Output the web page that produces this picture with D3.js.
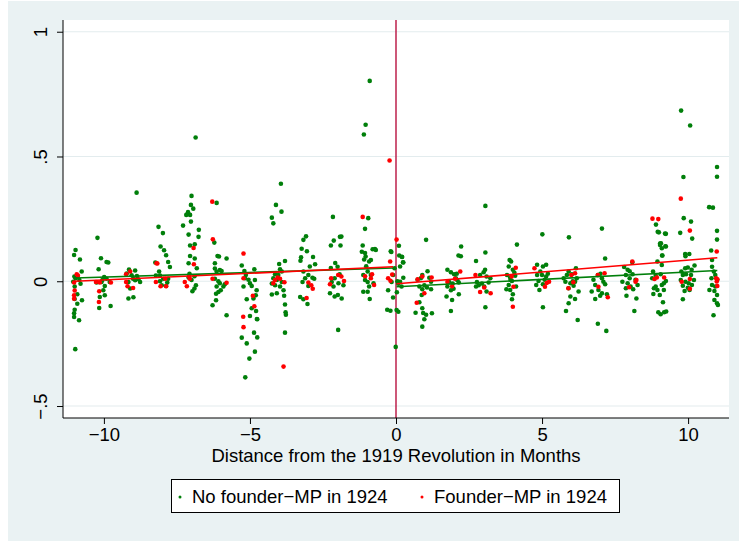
<!DOCTYPE html>
<html>
<head>
<meta charset="utf-8">
<script src="https://cdn.jsdelivr.net/npm/d3@7"></script>
<style>
  body { margin: 0; background: #fff; }
  text { font-family: "Liberation Sans", Arial, sans-serif; fill: #000; }
</style>
</head>
<body>
<svg id="chart" width="739" height="541"></svg>
<script>
// points as [months from revolution, outcome]
const noFounder = [
  [-10.97,0.125],[-11.02,0.105],[-10.82,0.087],[-10.76,0.039],[-11.01,0.019],[-10.97,0.012],[-11.05,-0.002],[-11.0,-0.021],[-10.91,-0.052],[-11.0,-0.071],[-10.75,-0.076],[-10.91,-0.09],[-11.0,-0.114],[-11.02,-0.128],[-11.02,-0.143],[-10.85,-0.156],[-10.98,-0.272],[-10.84,0.005],[-10.8,-0.01],[-10.9,0.02],
  [-10.22,0.174],[-10.1,0.092],[-10.18,0.048],[-9.91,0.077],[-9.85,0.075],[-9.99,0.017],[-9.91,0.01],[-10.08,-0.003],[-10.25,-0.005],[-9.8,-0.003],[-9.97,-0.019],[-10.02,-0.036],[-9.97,-0.056],[-10.14,-0.063],[-10.16,-0.107],[-9.77,-0.099],[-10.05,0.005],
  [-9.14,0.047],[-8.93,0.043],[-9.22,0.031],[-9.05,0.024],[-8.87,0.021],[-8.76,-0.003],[-9.16,-0.003],[-8.93,0.004],[-9.1,-0.029],[-8.99,-0.064],[-9.16,-0.069],[-8.88,0.355],[-9.0,0.01],[-8.82,0.008],
  [-8.13,0.218],[-7.98,0.193],[-8.06,0.139],[-7.94,0.124],[-7.87,0.104],[-7.8,0.077],[-7.74,0.057],[-8.24,0.075],[-8.11,0.039],[-8.08,0.023],[-8.22,0.023],[-7.97,0.01],[-7.83,-0.005],[-7.8,0.01],[-8.08,0.0],[-8.02,-0.016],[-7.87,-0.019],
  [-7.0,0.342],[-7.02,0.306],[-6.94,0.291],[-7.12,0.277],[-7.18,0.266],[-7.05,0.266],[-7.02,0.239],[-7.29,0.223],[-6.75,0.206],[-7.1,0.187],[-6.76,0.178],[-7.05,0.143],[-6.89,0.148],[-7.05,0.101],[-6.89,0.091],[-7.1,0.072],[-6.82,0.052],[-6.86,0.576],[-7.07,0.03],[-6.9,0.02],[-7.0,0.005],[-6.85,-0.016],[-6.9,-0.029],[-6.97,-0.04],[-7.1,0.015],
  [-6.14,0.314],[-6.22,0.155],[-6.11,0.101],[-6.06,0.099],[-5.8,0.091],[-6.2,0.072],[-6.2,0.051],[-6.14,0.039],[-6.03,0.045],[-5.97,0.041],[-6.2,0.01],[-6.08,0.0],[-6.14,-0.021],[-6.03,-0.008],[-5.91,-0.021],[-5.86,-0.012],[-6.0,-0.036],[-6.16,-0.05],[-6.08,-0.043],[-6.16,-0.076],[-6.28,-0.096],[-5.8,-0.136],
  [-5.28,0.063],[-5.19,0.041],[-5.14,0.025],[-5.17,0.012],[-5.22,-0.021],[-5.05,0.006],[-5.0,-0.008],[-4.94,-0.019],[-4.85,0.048],[-4.83,0.005],[-4.77,-0.036],[-4.8,-0.056],[-4.88,-0.069],[-5.11,-0.072],[-4.94,-0.108],[-4.79,-0.119],[-5.0,-0.139],[-4.76,-0.151],[-4.86,-0.206],[-5.28,-0.226],[-5.11,-0.249],[-5.16,-0.385],[-5.02,-0.31],[-4.83,-0.282],[-4.75,-0.225],[-4.75,-0.152],
  [-4.0,0.069],[-3.8,0.081],[-3.97,0.048],[-3.91,0.039],[-4.14,0.028],[-4.03,0.025],[-4.2,0.012],[-4.08,0.005],[-3.91,-0.003],[-4.25,-0.009],[-4.14,-0.016],[-3.97,-0.021],[-3.85,-0.036],[-4.25,-0.053],[-4.08,-0.048],[-3.83,-0.058],[-3.8,-0.093],[-3.78,-0.124],[-3.77,-0.134],[-3.8,-0.206],[-3.94,0.391],[-4.11,0.306],[-3.92,0.279],[-4.25,0.255],[-4.2,0.232],
  [-3.08,0.18],[-3.17,0.166],[-3.23,0.13],[-3.05,0.12],[-2.84,0.097],[-3.25,0.096],[-3.27,0.082],[-2.95,0.059],[-2.77,0.068],[-3.17,0.039],[-3.0,0.025],[-3.11,0.012],[-2.86,0.014],[-3.2,-0.003],[-3.0,-0.019],[-3.28,-0.063],[-3.17,-0.072],[-3.03,-0.091],[-2.8,0.01],
  [-2.16,0.258],[-1.92,0.178],[-1.87,0.179],[-2.13,0.163],[-2.23,0.143],[-1.9,0.143],[-2.08,0.073],[-2.0,0.058],[-2.23,0.053],[-1.93,0.028],[-2.1,0.012],[-2.2,-0.003],[-1.97,-0.008],[-1.8,-0.016],[-2.14,-0.021],[-2.26,-0.048],[-2.1,-0.061],[-1.99,-0.055],[-1.86,-0.069],[-1.98,-0.195],
  [-0.9,0.803],[-1.04,0.627],[-1.1,0.588],[-0.95,0.253],[-1.06,0.21],[-1.14,0.143],[-0.8,0.128],[-1.17,0.118],[-1.06,0.113],[-1.04,0.099],[-1.09,0.087],[-0.92,0.079],[-0.86,0.085],[-0.72,0.129],[-0.69,0.125],[-1.02,0.06],[-0.97,0.039],[-1.12,0.025],[-0.86,0.025],[-1.06,0.005],[-0.97,-0.003],[-0.77,-0.008],[-0.92,-0.021],[-0.97,-0.042],[-1.12,-0.042],[-0.9,-0.071],
  [-0.18,0.12],[-0.16,0.117],[-0.27,-0.036],[-0.3,-0.114],[-0.19,-0.118],[-0.1,0.025],[-0.15,-0.003],[-0.05,0.052],[-0.1,-0.065],
  [0.1,0.142],[0.11,0.103],[0.21,0.097],[0.2,0.098],[0.25,0.075],[0.24,0.076],[0.14,0.059],[0.25,0.014],[0.14,-0.002],[0.08,-0.01],[0.19,-0.021],[0.03,-0.044],[-0.01,-0.263],[0.08,-0.122],[0.05,0.0],[0.02,-0.115],
  [1.03,0.166],[0.9,0.025],[0.85,0.012],[0.74,0.006],[1.14,0.014],[1.2,-0.002],[0.97,-0.016],[0.8,-0.021],[0.9,-0.032],[1.06,-0.025],[1.2,-0.032],[0.88,-0.055],[0.8,-0.084],[0.9,-0.108],[0.93,-0.127],[1.03,-0.134],[0.97,-0.152],[1.23,-0.128],[0.9,-0.182],[0.67,-0.126],[1.08,0.04],
  [2.23,0.139],[2.14,0.103],[2.22,0.1],[1.76,0.046],[1.88,0.036],[1.99,0.028],[2.05,0.012],[1.82,-0.003],[1.94,-0.009],[2.1,0.004],[2.15,-0.005],[1.76,-0.021],[1.97,-0.03],[1.88,-0.036],[2.15,-0.052],[1.73,-0.061],[1.92,-0.075],[1.88,-0.119],[2.08,0.03],
  [3.06,0.302],[3.06,0.115],[2.74,0.081],[3.05,0.046],[3.0,0.036],[2.88,0.025],[3.1,0.019],[2.77,-0.003],[2.94,-0.009],[3.23,0.012],[2.83,-0.016],[3.02,-0.021],[3.17,-0.005],[3.1,-0.041],[3.06,-0.104],[2.74,-0.021],
  [4.14,0.147],[3.89,0.085],[3.94,0.079],[3.86,0.059],[4.0,0.046],[3.8,0.025],[3.91,0.015],[4.08,0.022],[3.97,0.001],[3.86,-0.015],[3.78,-0.032],[3.91,-0.035],[4.11,-0.021],[4.0,-0.052],[3.97,-0.072],[3.92,0.005],[4.05,0.035],
  [5.01,0.188],[4.83,0.066],[5.03,0.059],[5.14,0.066],[4.94,0.039],[4.83,0.025],[5.0,0.025],[5.14,0.019],[5.09,0.006],[4.88,0.001],[4.8,-0.015],[5.03,-0.012],[4.91,-0.035],[5.03,-0.104],[5.2,0.03],
  [5.92,0.176],[6.16,0.052],[5.91,0.039],[5.85,0.025],[6.02,0.028],[5.74,0.012],[6.19,0.012],[5.8,-0.002],[5.97,-0.008],[6.13,-0.002],[6.08,-0.018],[5.91,-0.028],[6.25,-0.041],[5.97,-0.061],[6.13,-0.071],[5.91,-0.088],[5.82,-0.119],[6.22,-0.155],[6.05,0.0],
  [7.05,0.211],[7.16,0.091],[6.91,0.025],[7.05,0.012],[6.76,0.006],[7.1,-0.002],[6.82,-0.015],[7.16,-0.012],[6.93,-0.035],[6.7,-0.041],[7.05,-0.048],[6.82,-0.071],[6.99,-0.058],[7.22,-0.052],[6.91,-0.17],[7.2,-0.199],[7.0,0.03],
  [7.87,0.025],[8.1,0.028],[8.0,0.012],[7.75,-0.002],[7.93,-0.008],[8.2,0.006],[8.03,-0.021],[7.87,-0.028],[8.12,-0.032],[8.27,-0.015],[7.89,-0.058],[8.23,-0.069],[8.16,-0.119],[7.81,0.057],[7.93,0.046],[8.09,0.076],[8.0,0.04],
  [8.9,0.227],[8.96,0.198],[9.21,0.191],[9.04,0.151],[9.04,0.145],[9.22,0.14],[9.11,0.103],[9.0,0.196],[9.24,0.19],[9.07,0.152],[9.1,0.132],[9.24,0.139],[9.12,0.103],[8.95,0.079],[9.1,0.065],[8.8,0.039],[8.89,0.025],[9.06,0.028],[8.77,0.012],[9.17,-0.008],[8.89,-0.021],[9.1,-0.015],[9.24,0.001],[8.83,-0.028],[8.95,-0.035],[9.17,-0.035],[8.81,-0.051],[9.03,-0.055],[9.14,-0.084],[9.18,-0.124],[9.06,-0.132],[8.98,-0.124],[9.25,-0.121],
  [9.76,0.684],[10.07,0.624],[9.84,0.418],[9.85,0.253],[10.1,0.239],[9.73,0.194],[10.14,0.171],[9.9,0.109],[10.04,0.109],[9.91,0.1],[9.9,0.052],[9.99,0.055],[10.12,0.046],[10.22,0.063],[9.77,0.039],[9.82,0.025],[9.93,0.028],[10.1,0.025],[9.75,0.005],[9.91,-0.002],[10.02,-0.008],[10.2,0.005],[9.82,-0.018],[9.99,-0.026],[10.13,-0.015],[9.88,-0.039],[10.05,-0.035],[9.82,-0.072],
  [10.99,0.458],[10.99,0.419],[10.72,0.297],[10.85,0.295],[10.99,0.202],[10.99,0.167],[10.79,0.123],[10.82,0.085],[10.82,0.058],[10.88,0.039],[10.93,0.025],[10.8,0.012],[11.0,0.006],[10.82,-0.015],[10.93,-0.021],[10.73,-0.035],[10.9,-0.039],[10.99,-0.055],[10.9,-0.075],[10.99,-0.088],[11.02,-0.095],[10.87,-0.136]
];

const founder = [
  [-10.93,0.028],[-10.89,0.023],[-11.02,-0.005],[-11.0,-0.037],[-11.02,-0.056],[-11.02,-0.07],
  [-10.27,-0.003],[-10.14,-0.005],[-9.76,-0.005],[-10.16,-0.04],[-10.17,-0.083],
  [-9.24,0.028],[-9.1,0.039],[-9.24,-0.003],[-9.19,-0.02],[-9.0,-0.027],
  [-8.17,0.071],[-8.22,-0.003],[-8.06,-0.02],[-7.87,-0.02],[-7.9,0.01],[-8.2,0.072],
  [-6.93,0.133],[-6.92,0.068],[-7.06,0.01],[-7.23,-0.003],[-7.16,-0.02],[-7.08,0.02],
  [-6.29,0.319],[-6.27,0.168],[-6.28,0.01],[-5.8,-0.006],[-5.22,0.111],
  [-5.22,0.012],[-4.9,-0.058],[-4.85,-0.1],[-5.23,-0.142],[-5.22,-0.184],
  [-4.14,0.005],[-4.05,0.015],[-3.97,0.01],[-3.82,-0.004],[-4.2,-0.008],[-3.85,-0.342],
  [-3.0,-0.005],[-2.9,-0.016],[-2.85,-0.03],[-3.06,-0.067],
  [-2.22,0.012],[-1.98,0.025],[-1.87,0.019],[-1.78,0.001],[-2.26,-0.012],
  [-1.14,0.258],[-0.82,0.028],[-0.86,0.012],[-0.75,-0.015],[-1.06,0.02],
  [-0.22,0.484],[0.02,0.167],[-0.2,0.079],[-0.13,0.027],[-0.27,0.012],[-0.19,0.002],
  [0.74,0.008],[0.9,0.019],[1.22,0.015],[0.97,-0.048],[0.71,-0.086],
  [1.92,-0.02],[2.2,0.039],[2.02,0.01],[1.76,-0.003],
  [2.88,-0.043],[3.02,-0.025],[3.24,-0.048],[2.72,0.025],
  [4.1,0.054],[3.96,0.019],[4.0,-0.102],[4.02,-0.022],
  [4.74,0.052],[5.1,-0.022],[5.16,-0.007],[5.24,-0.002],
  [5.9,-0.028],[6.0,0.025],[6.07,-0.004],[6.13,0.032],
  [6.91,0.025],[7.14,0.032],[6.93,-0.022],[7.25,-0.064],
  [8.09,0.079],[8.23,0.005],[7.98,-0.024],[8.2,-0.002],
  [8.78,0.251],[8.98,0.249],[8.85,0.009],[8.93,0.015],[9.18,0.015],
  [9.75,0.331],[10.06,0.203],[9.78,-0.002],[10.06,0.009],[10.06,-0.03],
  [10.98,0.119],[10.96,0.012],[11.0,0.008],[10.98,-0.001],[11.0,-0.019]
];

// linear fits, endpoints [x, y] for each side of the cutoff
const fitNoFounderBefore = [[-11, 0.013], [-0.1, 0.053]];
const fitFounderBefore = [[-11, 0.0], [-0.1, 0.058]];
const fitNoFounderAfter = [[0.02, -0.022], [11, 0.043]];
const fitFounderAfter = [[0.02, -0.01], [11, 0.094]];

const xTicks = [-10, -5, 0, 5, 10];
const yTicks = [-0.5, 0, 0.5, 1];
const cutoff = 0;
const legendLabels = ["No founder\u2212MP in 1924", "Founder\u2212MP in 1924"];
const xTitle = "Distance from the 1919 Revolution in Months";

const green = "#007f0a";
const red = "#ff0000";
const W = 739, H = 541;
const plot = {left: 63, right: 729, top: 20, bottom: 418};
const fontSize = "18.5px";

const svg = d3.select("#chart");

// outer stata-ish background
svg.append("rect")
    .attr("x", 8).attr("y", 1)
    .attr("width", W - 8).attr("height", H - 1)
    .attr("fill", "#eaf2f3");

svg.append("rect")
    .attr("x", plot.left).attr("y", plot.top)
    .attr("width", plot.right - plot.left).attr("height", plot.bottom - plot.top)
    .attr("fill", "#fff");

const x = d3.scaleLinear().domain([-11.4, 11.4]).range([plot.left, plot.right]);
const y = d3.scaleLinear().domain([-0.548, 1.047]).range([plot.bottom, plot.top]);

const minus = s => s.replace("-", "\u2212");
const fmtY = d => d === 0 ? "0" : minus(String(d).replace("0.", "."));

// grid
svg.append("g")
    .selectAll("line")
    .data(yTicks)
    .enter()
    .append("line")
    .attr("x1", plot.left).attr("x2", plot.right)
    .attr("y1", d => y(d)).attr("y2", d => y(d))
    .attr("stroke", "#e3ecee")
    .attr("stroke-width", 1.2);

// revolution line
svg.append("line")
    .attr("x1", x(cutoff)).attr("x2", x(cutoff))
    .attr("y1", plot.top).attr("y2", plot.bottom)
    .attr("stroke", "#b8103f")
    .attr("stroke-width", 1.4);

// points
svg.append("g")
    .selectAll("circle")
    .data(noFounder)
    .enter()
    .append("circle")
    .attr("cx", d => x(d[0]))
    .attr("cy", d => y(d[1]))
    .attr("r", 2.3)
    .attr("fill", green);

svg.append("g")
    .selectAll("circle")
    .data(founder)
    .enter()
    .append("circle")
    .attr("cx", d => x(d[0]))
    .attr("cy", d => y(d[1]))
    .attr("r", 2.3)
    .attr("fill", red);

// fit lines
const line = d3.line().x(d => x(d[0])).y(d => y(d[1]));
[[fitNoFounderBefore, green], [fitNoFounderAfter, green],
 [fitFounderBefore, red], [fitFounderAfter, red]].forEach(([pts, c]) => {
    svg.append("path")
        .attr("d", line(pts))
        .attr("fill", "none")
        .attr("stroke", c)
        .attr("stroke-width", 1.6);
});

// axes
const xAxis = svg.append("g")
    .attr("transform", `translate(0,${plot.bottom})`)
    .call(d3.axisBottom(x).tickValues(xTicks).tickSize(6).tickPadding(4)
        .tickFormat(d => minus(String(d))));
xAxis.attr("font-size", null).attr("font-family", null);
xAxis.select(".domain").attr("d", `M${plot.left},0H${plot.right}`).attr("stroke", "#000");
xAxis.selectAll("text").style("font-size", fontSize);

const yAxis = svg.append("g")
    .attr("transform", `translate(${plot.left},0)`)
    .call(d3.axisLeft(y).tickValues(yTicks).tickSize(6).tickFormat(fmtY));
yAxis.attr("font-size", null).attr("font-family", null);
yAxis.select(".domain").attr("d", `M0,${plot.top}V${plot.bottom}`).attr("stroke", "#000");
yAxis.selectAll("text")
    .attr("transform", "rotate(-90)")
    .attr("x", 0).attr("y", -16).attr("dy", 0)
    .attr("text-anchor", "middle")
    .style("font-size", fontSize);

svg.append("text")
    .attr("x", x(0)).attr("y", 462)
    .attr("text-anchor", "middle")
    .style("font-size", fontSize)
    .text(xTitle);

// legend
const lg = svg.append("g");
lg.append("rect")
    .attr("x", 171.5).attr("y", 479.5)
    .attr("width", 448).attr("height", 33)
    .attr("fill", "#fff").attr("stroke", "#000").attr("stroke-width", 1);
const legendPos = [180, 422];
legendLabels.forEach((t, i) => {
    lg.append("circle")
        .attr("cx", legendPos[i]).attr("cy", 497)
        .attr("r", 1.5)
        .attr("fill", i === 0 ? green : red);
    lg.append("text")
        .attr("x", legendPos[i] + 12).attr("y", 503)
        .style("font-size", fontSize)
        .text(t);
});
</script>
</body>
</html>
